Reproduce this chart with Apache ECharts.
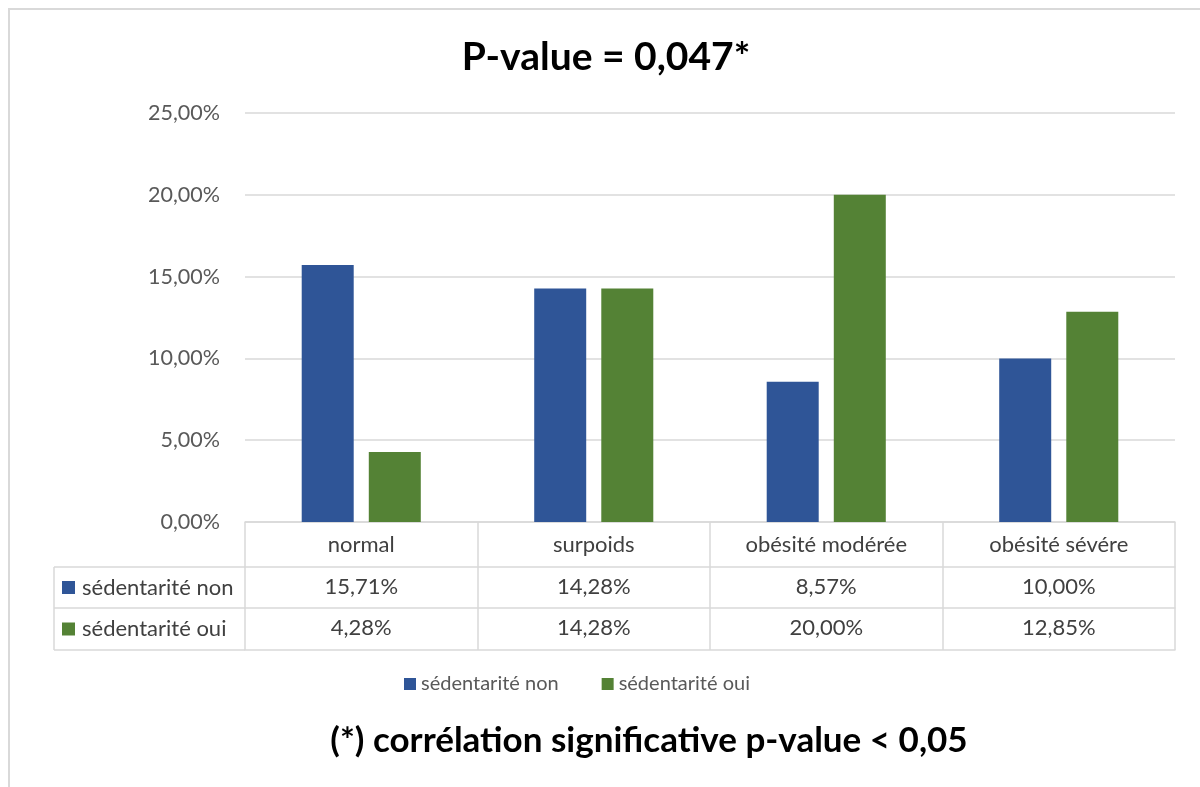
<!DOCTYPE html>
<html>
<head>
<meta charset="utf-8">
<script src="https://cdn.jsdelivr.net/npm/echarts@6/dist/echarts.min.js"></script>
<style>
  html, body { margin: 0; padding: 0; background: #fff; }
  #chart { width: 1200px; height: 787px; }
</style>
</head>
<body>
<div id="chart"></div>
<script>
// Categories and series values (percent)
const categories = ['normal', 'surpoids', 'obésité modérée', 'obésité sévére'];
const seriesNames = ['sédentarité non', 'sédentarité oui'];
const sedentariteNon = [15.71, 14.28, 8.57, 10.00];
const sedentariteOui = [4.28, 14.28, 20.00, 12.85];
const yTicks = [0, 5, 10, 15, 20, 25];

const colors = ['#2F5597', '#548235'];
const FONT = 'Lato, "Open Sans", sans-serif';
const fmt = v => Number(v).toFixed(2).replace('.', ',') + '%';

// Plot-area and data-table geometry
const W = 1200, H = 787;
const gridLeft = 245, gridRight = 25, gridTop = 113, gridBottomY = 522;
const rowOffsets = [0, 45, 86, 128];   // header, row 1, row 2, bottom edge
const tableLeft = 54;
const lineColor = '#d9d9d9';
const textColor = '#404040';
const tableFontSize = 22;

const chart = echarts.init(document.getElementById('chart'), null, { renderer: 'canvas' });

function tableAxis(idx, labelFn) {
  const isEdge = idx === 3;
  return {
    type: 'category',
    data: categories,
    position: 'bottom',
    offset: rowOffsets[idx],
    boundaryGap: true,
    axisLine: { show: true, lineStyle: { color: lineColor, width: 1.5 } },
    axisTick: {
      show: !isEdge,
      interval: 0,
      length: isEdge ? 0 : rowOffsets[idx + 1] - rowOffsets[idx],
      lineStyle: { color: lineColor, width: 1.5 }
    },
    axisLabel: {
      show: !isEdge,
      interval: 0,
      margin: idx === 0 ? 12 : 9,
      fontFamily: FONT,
      fontSize: tableFontSize,
      color: textColor,
      formatter: labelFn
    },
    splitLine: { show: false }
  };
}

// Left column of the data table: row headers with colour keys and borders
const rowYs = rowOffsets.map(o => gridBottomY + o);
const graphics = [
  {
    type: 'rect',
    shape: { x: 9, y: 9, width: W + 200, height: H + 200 },
    style: { fill: 'none', stroke: '#d9d9d9', lineWidth: 2 },
    silent: true
  },
  {
    type: 'line',
    shape: { x1: tableLeft, y1: rowYs[1], x2: tableLeft, y2: rowYs[3] },
    style: { stroke: lineColor, lineWidth: 1.5 }
  }
];
[1, 2, 3].forEach(i => {
  graphics.push({
    type: 'line',
    shape: { x1: tableLeft, y1: rowYs[i], x2: gridLeft, y2: rowYs[i] },
    style: { stroke: lineColor, lineWidth: 1.5 }
  });
});
seriesNames.forEach((name, i) => {
  const cy = (rowYs[i + 1] + rowYs[i + 2]) / 2;
  graphics.push({
    type: 'rect',
    shape: { x: tableLeft + 8, y: cy - 6.5, width: 13, height: 13 },
    style: { fill: colors[i] }
  });
  graphics.push({
    type: 'text',
    x: tableLeft + 28,
    y: cy,
    style: {
      text: name,
      font: tableFontSize + 'px ' + FONT,
      fill: textColor,
      verticalAlign: 'middle'
    }
  });
});

const option = {
  backgroundColor: '#fff',
  animation: false,
  title: [
    {
      text: 'P-value = 0,047*',
      left: 601,
      top: 33,
      textAlign: 'center',
      textStyle: { fontFamily: FONT, fontSize: 39, fontWeight: 'bold', color: '#000' }
    },
    {
      text: '(*) corrélation significative p-value < 0,05',
      left: 644,
      top: 718,
      textAlign: 'center',
      textStyle: { fontFamily: FONT, fontSize: 35, fontWeight: 'bold', color: '#000' }
    }
  ],
  legend: {
    data: seriesNames,
    left: 399,
    top: 669,
    icon: 'rect',
    itemWidth: 12,
    itemHeight: 12,
    itemGap: 43,
    textStyle: { fontFamily: FONT, fontSize: 20, color: '#595959' }
  },
  grid: {
    left: gridLeft,
    right: gridRight,
    top: gridTop,
    bottom: H - gridBottomY,
    containLabel: false
  },
  xAxis: [
    tableAxis(0, v => v),
    tableAxis(1, (v, i) => fmt(sedentariteNon[i])),
    tableAxis(2, (v, i) => fmt(sedentariteOui[i])),
    tableAxis(3, () => '')
  ],
  yAxis: {
    type: 'value',
    min: yTicks[0],
    max: yTicks[yTicks.length - 1],
    interval: yTicks[1] - yTicks[0],
    axisLine: { show: false },
    axisTick: { show: false },
    axisLabel: {
      margin: 25,
      fontFamily: FONT,
      fontSize: 21.5,
      color: '#595959',
      formatter: v => fmt(v)
    },
    splitLine: { lineStyle: { color: lineColor, width: 1.5 } }
  },
  series: [
    {
      name: seriesNames[0],
      type: 'bar',
      xAxisIndex: 0,
      data: sedentariteNon,
      barWidth: 52,
      barGap: '29%',
      itemStyle: { color: colors[0] }
    },
    {
      name: seriesNames[1],
      type: 'bar',
      xAxisIndex: 0,
      data: sedentariteOui,
      barWidth: 52,
      barGap: '29%',
      itemStyle: { color: colors[1] }
    }
  ],
  graphic: graphics
};

chart.setOption(option);
</script>
</body>
</html>
